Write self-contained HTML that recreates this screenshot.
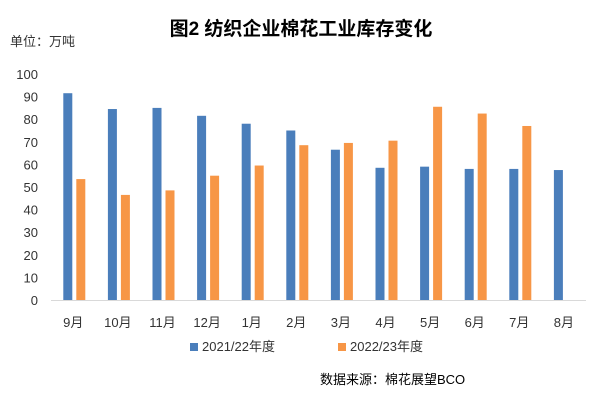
<!DOCTYPE html>
<html><head><meta charset="utf-8"><style>
body{margin:0;background:#fff;}
svg text{font-family:"Liberation Sans","Noto Sans CJK SC",sans-serif;}
</style></head><body>
<svg id="chart" width="601" height="401">
<text x="301" y="35" text-anchor="middle" font-size="19" font-weight="bold" fill="#000">图2  纺织企业棉花工业库存变化</text>
<text x="10" y="46" font-size="13" fill="#333">单位：万吨</text>
<g id="grid"></g><g id="bars"></g><g id="labels"></g>
<g>
<rect x="190" y="343" width="8" height="8" fill="#4A7EBB"/>
<text x="202" y="351" font-size="13" fill="#333">2021/22年度</text>
<rect x="338" y="343" width="8" height="8" fill="#F79646"/>
<text x="350" y="351" font-size="13" fill="#333">2022/23年度</text>
</g>
<text x="320" y="384" font-size="13" fill="#000">数据来源：棉花展望BCO</text>
</svg>
<script>
const categories=["9月","10月","11月","12月","1月","2月","3月","4月","5月","6月","7月","8月"];
const series2122=[91.5,84.5,85,81.5,78,75,66.5,58.5,59,58,58,57.5];
const series2223=[53.5,46.5,48.5,55,59.5,68.5,69.5,70.5,85.5,82.5,77,null];
const yTicks=[0,10,20,30,40,50,60,70,80,90,100];
const ns="http://www.w3.org/2000/svg";
const y0=300,yTop=74,x0=51,step=44.6;
const y=v=>y0-(v/100)*(y0-yTop);
const xc=i=>x0+step*(i+0.5);
const labels=document.getElementById('labels'),bars=document.getElementById('bars');
function mk(t,a,p){const e=document.createElementNS(ns,t);for(const k in a)e.setAttribute(k,a[k]);p.appendChild(e);return e;}
yTicks.forEach(v=>{const t=mk('text',{x:38,y:y(v)+5,'text-anchor':'end','font-size':13,fill:'#333'},labels);t.textContent=v;

});
mk('line',{x1:x0,x2:586,y1:y0+0.5,y2:y0+0.5,stroke:'#d9d9d9'},labels);
categories.forEach((c,i)=>{
 const t=mk('text',{x:xc(i),y:327,'text-anchor':'middle','font-size':13,fill:'#333'},labels);t.textContent=c;
 
 
 const b=mk('rect',{x:xc(i)-10,y:y(series2122[i]),width:9,height:y0-y(series2122[i]),fill:'#4A7EBB'},bars);
 
 
 if(series2223[i]!=null){const o=mk('rect',{x:xc(i)+3,y:y(series2223[i]),width:9,height:y0-y(series2223[i]),fill:'#F79646'},bars);
 
 }
});
</script>
</body></html>
